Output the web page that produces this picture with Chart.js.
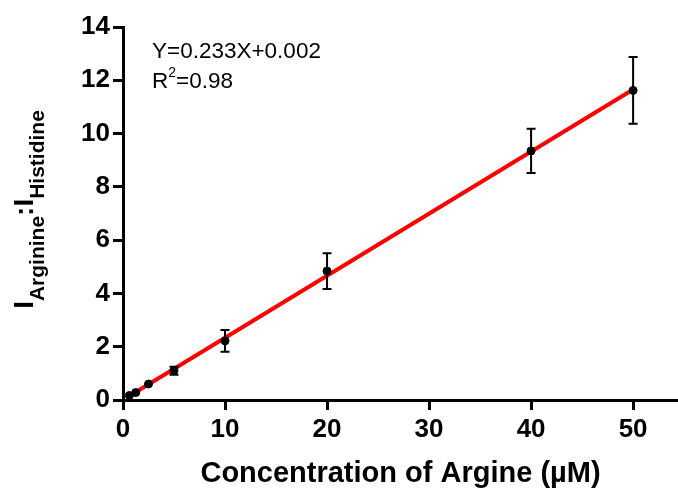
<!DOCTYPE html>
<html>
<head>
<meta charset="utf-8">
<script src="https://cdn.jsdelivr.net/npm/chart.js@4/dist/chart.umd.min.js"></script>
<style>
  html, body { margin: 0; padding: 0; background: #fff; }
  #wrap { width: 678px; height: 495px; position: relative; }
</style>
</head>
<body>
<div id="wrap"><canvas id="c"></canvas></div>
<script>
// ---- data ----
const concentrations = [0.625, 1.25, 2.5, 5, 10, 20, 40, 50];      // µM
const ratios         = [0.17, 0.28, 0.60, 1.10, 2.22, 4.84, 9.35, 11.62];
const errors         = [0.03, 0.04, 0.05, 0.15, 0.41, 0.67, 0.83, 1.25];
const fitSlope = 0.233;
const fitIntercept = 0.002;
const xTicks = [0, 10, 20, 30, 40, 50];
const yTicks = [0, 2, 4, 6, 8, 10, 12, 14];
const equationText = 'Y=0.233X+0.002';
const r2Value = '=0.98';
const xTitle = 'Concentration of Argine (\u00B5M)';

const FONT = '"Liberation Sans", Arial, Helvetica, sans-serif';

const points = concentrations.map((x, i) => ({ x: x, y: ratios[i] }));
const xMin = Math.min(...concentrations), xMax = Math.max(...concentrations);
const fitLine = [xMin, xMax].map(x => ({ x: x, y: fitSlope * x + fitIntercept }));

const errorBarPlugin = {
  id: 'errorBars',
  beforeDatasetDraw(chart, args) {
    if (args.index !== 1) return;
    const ctx = chart.ctx, xs = chart.scales.x, ys = chart.scales.y;
    ctx.save();
    ctx.strokeStyle = '#000';
    ctx.lineWidth = 2;
    concentrations.forEach((x, i) => {
      const px = xs.getPixelForValue(x);
      const top = ys.getPixelForValue(ratios[i] + errors[i]);
      const bot = ys.getPixelForValue(ratios[i] - errors[i]);
      if (bot - top < 4) return;
      ctx.beginPath();
      ctx.moveTo(px, top); ctx.lineTo(px, bot);
      ctx.moveTo(px - 4.5, top); ctx.lineTo(px + 4.5, top);
      ctx.moveTo(px - 4.5, bot); ctx.lineTo(px + 4.5, bot);
      ctx.stroke();
    });
    ctx.restore();
  }
};

const textPlugin = {
  id: 'texts',
  afterDraw(chart) {
    const ctx = chart.ctx, ca = chart.chartArea;
    ctx.save();
    ctx.fillStyle = '#000';
    // equation annotation
    ctx.font = '22.5px ' + FONT;
    ctx.textBaseline = 'alphabetic';
    ctx.textAlign = 'left';
    const ax = ca.left + 29;
    ctx.fillText(equationText, ax, ca.top + 31);
    ctx.fillText('R', ax, ca.top + 61);
    const rw = ctx.measureText('R').width;
    ctx.font = '14px ' + FONT;
    ctx.fillText('2', ax + rw, ca.top + 50);
    const sw = ctx.measureText('2').width;
    ctx.font = '22.5px ' + FONT;
    ctx.fillText(r2Value, ax + rw + sw, ca.top + 61);

    // y-axis title with subscripts, rotated
    const parts = [
      { t: 'I', size: 28, dy: 0 },
      { t: 'Arginine', size: 21, dy: 11 },
      { t: ':', size: 28, dy: 0 },
      { t: 'I', size: 28, dy: 0 },
      { t: 'Histidine', size: 21, dy: 11 }
    ];
    let total = 0;
    parts.forEach(p => { ctx.font = 'bold ' + p.size + 'px ' + FONT; p.w = ctx.measureText(p.t).width; total += p.w; });
    const cy = (ca.top + ca.bottom) / 2 - 4;
    ctx.translate(33, cy);
    ctx.rotate(-Math.PI / 2);
    let x = -total / 2;
    parts.forEach(p => {
      ctx.font = 'bold ' + p.size + 'px ' + FONT;
      ctx.fillText(p.t, x, p.dy);
      x += p.w;
    });
    ctx.restore();
  }
};

new Chart(document.getElementById('c'), {
  type: 'scatter',
  data: {
    datasets: [
      {
        type: 'line',
        data: fitLine,
        borderColor: '#ff0000',
        borderWidth: 4,
        pointRadius: 0,
        fill: false,
        order: 2
      },
      {
        data: points,
        backgroundColor: '#000',
        borderColor: '#000',
        pointRadius: 4,
        pointHoverRadius: 4,
        order: 1
      }
    ]
  },
  options: {
    responsive: true,
    maintainAspectRatio: false,
    animation: false,
    events: [],
    layout: { autoPadding: false, padding: { top: 27, right: 0, left: 0, bottom: 0 } },
    plugins: { legend: { display: false }, tooltip: { enabled: false } },
    scales: {
      x: {
        type: 'linear',
        min: 0,
        max: 54.4,
        afterBuildTicks(scale) { scale.ticks = xTicks.map(v => ({ value: v })); },
        afterFit(scale) { scale.height = 95; scale.paddingRight = 0; scale.paddingLeft = 0; },
        border: { display: true, color: '#000', width: 3 },
        grid: { display: true, drawOnChartArea: false, drawTicks: true, tickLength: 10, tickWidth: 3, tickColor: '#000' },
        ticks: { color: '#000', padding: 4, maxRotation: 0, font: { family: FONT, size: 26, weight: 'bold' } },
        title: { display: true, text: xTitle, color: '#000', padding: { top: 6 }, font: { family: FONT, size: 29, weight: 'bold' } }
      },
      y: {
        type: 'linear',
        min: 0,
        max: 14,
        afterBuildTicks(scale) { scale.ticks = yTicks.map(v => ({ value: v })); },
        afterFit(scale) { scale.width = 123; },
        border: { display: true, color: '#000', width: 3 },
        grid: { display: true, drawOnChartArea: false, drawTicks: true, tickLength: 10, tickWidth: 3, tickColor: '#000' },
        ticks: { color: '#000', padding: 3, font: { family: FONT, size: 26, weight: 'bold' } }
      }
    }
  },
  plugins: [errorBarPlugin, textPlugin]
});
</script>
</body>
</html>
